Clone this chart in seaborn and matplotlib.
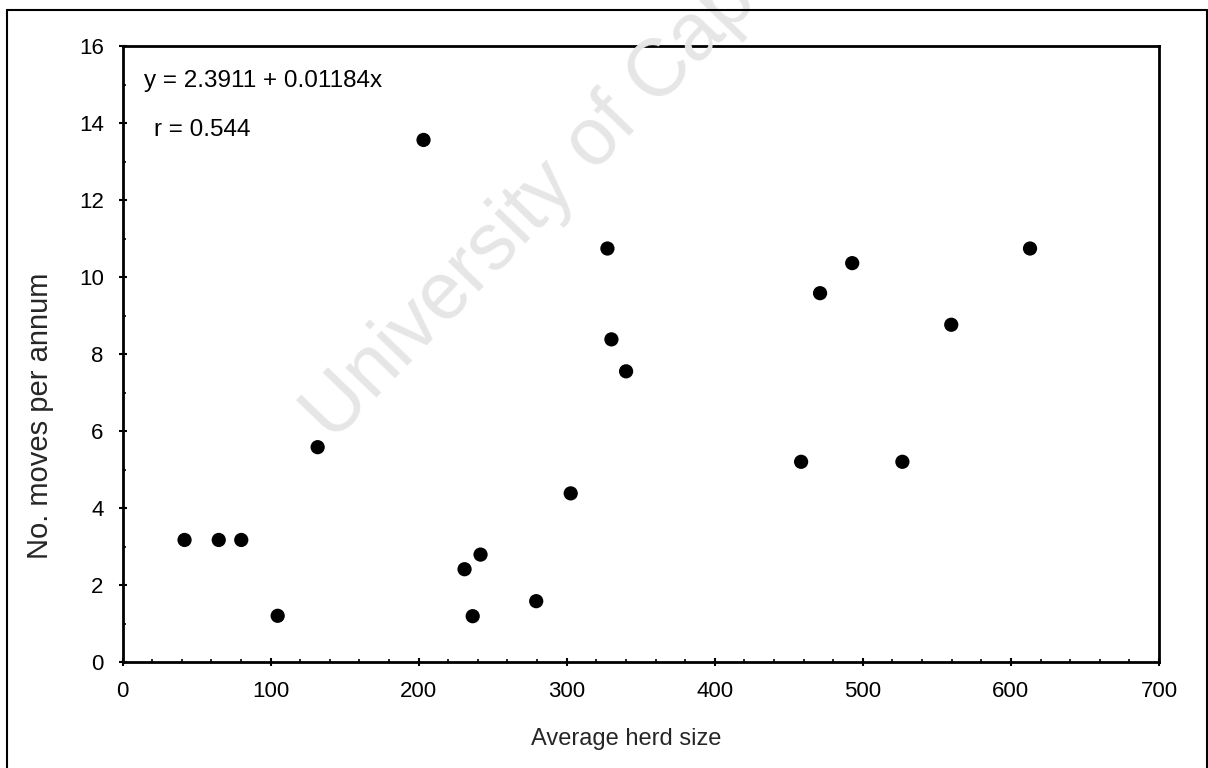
import matplotlib
matplotlib.use("Agg")
import matplotlib.pyplot as plt
import seaborn as sns
import pandas as pd
from matplotlib.lines import Line2D
from matplotlib.ticker import MultipleLocator

# ---- data ----
herd_size = [41.9, 65.0, 80.2, 104.8, 131.8, 203.3, 231.0, 236.5, 241.8, 279.4,
             302.7, 327.5, 330.2, 340.1, 458.3, 471.1, 492.8, 526.7, 559.7, 612.9]
moves = [3.17, 3.17, 3.17, 1.20, 5.58, 13.56, 2.41, 1.19, 2.79, 1.58,
         4.38, 10.74, 8.38, 7.55, 5.20, 9.58, 10.36, 5.20, 8.76, 10.74]
x_ticks = [0, 100, 200, 300, 400, 500, 600, 700]
y_ticks = [0, 2, 4, 6, 8, 10, 12, 14, 16]
equation_text = "y = 2.3911 + 0.01184x"
r_text = "r = 0.544"
x_label = "Average herd size"
y_label = "No. moves per annum"
watermark = "University of Cape Town"

sns.set_style("white")
plt.rcParams['font.family'] = ['Liberation Sans', 'DejaVu Sans']

df = pd.DataFrame({"herd": herd_size, "moves": moves})

fig = plt.figure(figsize=(12.08, 7.68), dpi=100)
fig.patch.set_facecolor("white")

# watermark (drawn first, light gray)
fig.text(333 / 1208, 1 - 443 / 768, watermark, fontsize=58, color="#e6e6e6",
         rotation=46, rotation_mode="anchor", ha="left", va="baseline", zorder=0)

ax = fig.add_axes([122.5 / 1208, 1 - 662 / 768, 1036.5 / 1208, 616 / 768])
ax.set_facecolor("none")

sns.scatterplot(data=df, x="herd", y="moves", ax=ax, s=105, color="black",
                edgecolor="none", linewidth=0, zorder=3, legend=False)

ax.set_xlim(0, 700)
ax.set_ylim(0, 16)
ax.set_xticks(x_ticks)
ax.set_yticks(y_ticks)
ax.xaxis.set_minor_locator(MultipleLocator(20))
ax.yaxis.set_minor_locator(MultipleLocator(1))

for sp in ax.spines.values():
    sp.set_visible(True)
    sp.set_color("black")
    sp.set_linewidth(2.0)

ax.tick_params(axis="both", which="major", direction="inout", length=6, width=1.5,
               labelsize=16, pad=10.5, colors="black", bottom=True, left=True,
               top=False, right=False)
ax.tick_params(axis="both", which="minor", direction="in", length=2.5, width=1.2,
               bottom=True, left=True, top=False, right=False, colors="black")

ax.set_xlabel(x_label, fontsize=17)
ax.set_ylabel(y_label, fontsize=21)
ax.xaxis.set_label_coords(0.486, -0.107)
ax.yaxis.set_label_coords(-0.066, 0.40)

ax.text(14.5, 14.93, equation_text, fontsize=17.5, color="black", ha="left",
        va="baseline")
ax.text(21.3, 13.66, r_text, fontsize=17.5, color="black", ha="left",
        va="baseline")

# outer frame around the figure (bottom edge off-canvas)
W, H = 1208, 768
frame_kw = dict(color="black", linewidth=1.5, transform=fig.transFigure)
fig.add_artist(Line2D([7.5 / W, 7.5 / W], [0, 1 - 9.5 / H], **frame_kw))
fig.add_artist(Line2D([7.5 / W, 1206.5 / W], [1 - 9.5 / H, 1 - 9.5 / H], **frame_kw))
fig.add_artist(Line2D([1206.5 / W, 1206.5 / W], [0, 1 - 9.5 / H], **frame_kw))

fig.savefig("out.png", dpi=100, facecolor="white")
